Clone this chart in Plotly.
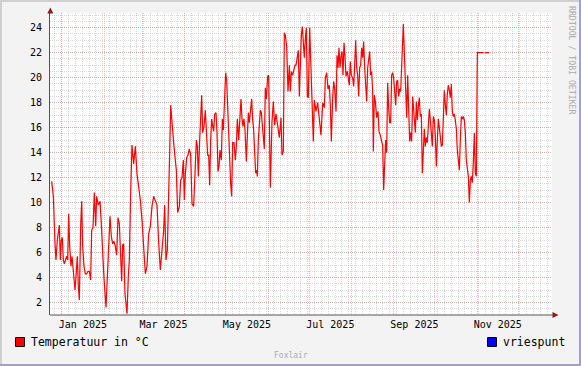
import pandas as pd
import plotly.graph_objects as go

# ---------------- data (day offsets from 2025-01-01, temperature in °C) ----------------
days = [
    -7.34, -6.12, -4.90, -4.17, -3.20, -1.73, -1.00, -0.27, 0.46, 1.19, 1.92, 2.90, 3.64, 4.37,
    5.10, 5.83, 6.80, 7.53, 8.51, 9.73, 10.46, 11.43, 12.16, 12.90, 13.87, 14.61, 15.34, 16.31,
    17.29, 18.26, 19.24, 20.21, 21.19, 21.92, 22.90, 23.87, 24.85, 25.58, 26.80, 28.02, 28.99,
    29.97, 30.94, 32.41, 33.38, 34.36, 35.33, 36.31, 37.28, 38.26, 39.23, 40.21, 41.18, 42.16,
    43.14, 43.87, 44.60, 45.33, 46.30, 47.03, 47.77, 48.74, 49.47, 50.45,
    51.42, 52.65, 53.86, 55.08, 56.30, 57.52, 58.74, 59.96, 61.18, 62.40, 63.62, 64.83, 66.05,
    67.27, 68.49, 69.71, 70.93, 72.15, 73.37, 74.59, 75.32, 76.29, 77.27, 78.25, 78.98, 79.71,
    80.68, 81.90, 83.12, 83.85, 84.83, 86.05, 87.03, 88.00, 88.97, 89.70, 90.44, 91.42, 92.39,
    93.36, 94.34, 95.32, 96.54,
    97.51, 98.49, 99.22, 99.95, 100.93, 101.66, 102.39, 103.12, 104.10, 105.07, 105.80, 106.78,
    107.51, 108.24, 108.97, 109.70, 110.44, 111.17, 111.90, 112.87, 113.60, 114.33, 115.07,
    115.80, 116.77, 117.50, 118.23, 119.21, 119.94, 120.67, 121.41, 122.14, 122.87, 123.60,
    124.33, 125.06, 126.04, 127.01, 127.74, 128.47, 129.45, 130.43, 131.16, 131.89, 132.62,
    133.35, 134.08, 135.06, 135.79, 136.52, 137.25, 138.23, 138.96, 139.69, 140.43, 141.16,
    141.89, 142.62, 143.10, 143.83, 144.56, 145.30, 146.03, 146.76, 147.49, 148.22, 148.96,
    149.69, 150.66, 151.40,
    152.61, 153.83, 154.81, 155.79, 156.76, 157.98, 159.20, 160.42, 161.15, 162.13, 162.86,
    163.59, 164.57, 165.54, 166.51, 167.25, 167.98, 168.95, 169.69, 170.66, 171.39, 172.12,
    173.10, 173.83, 174.56, 175.29, 176.02, 176.75, 177.48, 178.22, 178.95, 179.68, 180.41,
    181.39, 182.12, 183.10, 184.07, 184.80, 186.02, 187.24, 188.46, 189.68, 190.90, 192.12,
    192.85, 193.83, 194.80, 195.78, 196.51, 197.24, 198.21, 198.95, 199.68, 200.66, 201.39,
    202.12, 202.85,
    203.58, 204.31, 205.04, 205.77, 206.51, 207.24, 207.97, 208.94, 209.67, 210.40, 211.13,
    211.86, 212.84, 213.57, 214.30, 215.04, 215.77, 216.50, 217.23, 217.96, 218.69, 219.43,
    220.16, 220.89, 221.62, 222.35, 223.08, 223.81, 224.55, 225.28, 226.01, 226.74, 227.47,
    227.96, 228.69, 229.42, 230.40, 231.37, 232.10, 233.08, 234.06, 234.79, 235.52, 236.25,
    236.98, 237.71, 238.45, 239.18, 239.91, 240.64, 241.37, 242.10, 242.84, 243.57, 244.30,
    245.03, 245.76, 246.49, 247.22, 247.96, 248.69, 249.42, 249.91, 250.88, 251.62, 252.35,
    253.08, 253.81, 254.54, 255.27, 256.00,
    256.74, 257.71, 258.68, 259.42, 260.15, 260.88, 261.61, 262.34, 263.07, 263.81, 264.54,
    265.27, 266.00, 266.73, 267.46, 268.19, 268.93, 269.66, 270.39, 271.12, 271.85, 272.58,
    273.31, 274.05, 274.78, 275.51, 276.24, 276.97, 277.70, 278.44, 279.17, 279.90, 280.63,
    281.36, 282.09, 282.82, 283.56, 284.29, 285.02, 285.75, 286.48, 287.21, 287.94, 288.68,
    289.41, 290.14, 290.87, 291.60, 292.33, 293.06, 293.80, 294.53, 295.26, 295.99, 296.72,
    297.45, 298.19, 298.92, 299.65, 300.38, 301.11, 301.84, 302.58, 303.31,
    304.04, 308.70, None, 309.60, 312.80,
]
temps = [
    11.7, 10.5, 6.7, 5.4, 7.0, 8.2, 5.4, 7.0, 7.2, 5.4, 5.1, 5.5, 5.7, 5.4,
    9.1, 6.5, 4.9, 5.7, 4.6, 3.0, 4.1, 5.7, 3.3, 2.2, 8.1, 10.1, 6.5, 4.9,
    4.3, 4.3, 4.5, 4.5, 3.8, 7.8, 8.0, 10.8, 8.1, 10.5, 9.8, 10.1, 8.3,
    5.9, 3.9, 1.6, 3.8, 5.5, 8.9, 7.3, 6.7, 6.9, 6.5, 5.8, 8.8, 8.3,
    5.7, 3.7, 6.6, 6.7, 2.7, 1.9, 1.1, 4.1, 5.4, 10.8,
    14.6, 13.1, 14.5, 12.3, 11.2, 10.2, 8.6, 6.5, 4.3, 4.9, 7.5, 8.1, 9.7,
    10.5, 10.1, 9.8, 6.8, 4.6, 6.2, 7.8, 9.8, 5.4, 6.2, 9.7, 14.0, 17.8,
    16.1, 14.8, 13.4, 12.6, 9.2, 9.7, 11.8, 12.0, 13.4, 10.2, 12.3, 13.6, 13.8,
    14.3, 13.8, 9.9, 9.7,
    12.35, 15.0, 14.5, 12.1, 15.0, 16.9, 18.6, 15.6, 16.1, 17.4, 15.3, 13.8,
    13.8, 11.4, 15.0, 16.7, 16.1, 15.7, 17.1, 17.2, 15.6, 12.5, 12.9,
    14.2, 13.4, 16.7, 15.8, 18.0, 20.4, 19.8, 17.7, 15.0, 12.9, 11.5,
    10.5, 14.8, 14.8, 13.4, 14.5, 16.7, 15.0, 17.7, 18.3, 16.7, 16.1,
    16.7, 15.8, 13.3, 15.6, 17.2, 16.4, 17.8, 18.3, 16.7, 15.8, 14.0,
    12.35, 12.6, 12.1, 15.0, 16.2, 17.4, 17.2, 16.1, 15.6, 14.3, 19.2,
    18.3, 20.1, 20.2,
    11.2, 16.5, 18.1, 16.2, 17.1, 15.9, 15.2, 16.8, 13.8, 14.1, 23.6,
    23.4, 22.5, 18.9, 21.0, 18.9, 20.5, 20.2, 20.5, 21.0, 21.0, 21.6,
    22.2, 18.5, 21.6, 23.4, 24.1, 22.6, 21.6, 23.1, 24.0, 18.5, 18.4,
    24.0, 21.6, 17.0, 14.9, 18.2, 17.3, 18.0, 16.7, 15.4, 18.0, 17.6,
    19.97, 20.4, 19.1, 19.4, 17.8, 14.9, 18.4, 19.7, 19.1, 17.3, 21.8,
    20.8, 22.4,
    20.8, 21.7, 22.1, 20.2, 22.8, 21.7, 20.1, 20.5, 20.1, 19.4, 21.3,
    20.2, 19.97, 19.3, 21.0, 23.0, 20.8, 20.2, 18.5, 20.8, 21.0, 22.4,
    21.6, 22.9, 20.8, 19.4, 18.1, 20.8, 21.3, 22.1, 20.2, 20.5, 18.9,
    14.1, 18.6, 18.1, 16.8, 17.3, 15.7, 15.4, 14.9, 14.6, 11.0, 13.6,
    15.0, 14.0, 19.6, 17.6, 16.4, 16.4, 20.2, 20.4, 19.97, 18.9, 17.8,
    19.7, 19.8, 18.5, 19.1, 18.9, 20.6, 23.1, 24.3, 21.3, 18.9, 16.8,
    20.2, 17.8, 14.9, 15.6, 14.9,
    18.5, 16.6, 15.6, 18.1, 16.6, 17.7, 18.4, 16.9, 17.1, 12.35, 14.0,
    15.9, 14.5, 15.2, 14.8, 16.6, 17.5, 16.6, 15.0, 14.5, 16.9, 16.6,
    15.3, 12.9, 15.0, 16.7, 16.0, 14.8, 14.5, 14.6, 17.8, 19.0, 17.8,
    17.0, 18.7, 19.4, 19.0, 18.4, 19.5, 17.3, 16.9, 17.1, 16.6, 15.9,
    14.2, 13.4, 12.6, 15.0, 16.9, 16.7, 16.9, 16.6, 15.6, 13.4, 12.35,
    12.1, 10.0, 11.8, 12.1, 11.6, 13.2, 15.6, 12.35, 12.1,
    22.0, 22.0, None, 22.0, 22.0,
]

label_months = ["2025-01", "2025-03", "2025-05", "2025-07", "2025-09", "2025-11"]
label_text = ["Jan 2025", "Mar 2025", "May 2025", "Jul 2025", "Sep 2025", "Nov 2025"]
y_ticks = [2, 4, 6, 8, 10, 12, 14, 16, 18, 20, 22, 24]
series_name = "Temperatuur in °C"
freeze_name = "vriespunt"
freeze_value = 0

# ---------------- build ----------------
base = pd.Timestamp("2025-01-01")
xdates = [base + pd.Timedelta(days=d) if d is not None else None for d in days]
x_start = base + pd.Timedelta(days=-8.56)
x_end = base + pd.Timedelta(days=358.66)

month_starts = list(pd.date_range("2024-12-01", "2026-01-01", freq="MS"))
label_pos = []
for m in label_months:
    s = pd.Timestamp(m + "-01")
    e = s + pd.offsets.MonthBegin(1)
    label_pos.append(s + (e - s) / 2)

FONT = "DejaVu Sans Mono"
MAJ = "rgba(222,120,120,0.5)"
MIN = "rgba(160,160,160,0.4)"

PL, PT, PW, PH = 50, 13, 502, 302
W, H = 581, 366


def px(x):
    return (x - PL) / PW


def py(y):
    return (PT + PH - y) / PH


fig = go.Figure()
fig.add_trace(go.Scatter(x=xdates, y=temps, mode="lines", name=series_name,
                         line=dict(color="#ff0000", width=1.2), connectgaps=False,
                         showlegend=False, hoverinfo="skip"))
fig.add_trace(go.Scatter(x=[x_start, x_end], y=[freeze_value, freeze_value], mode="lines",
                         name=freeze_name, xaxis="x2", line=dict(color="#0000ff", width=1),
                         showlegend=False, hoverinfo="skip"))

shapes = []
# arrows
shapes.append(dict(type="path", xref="paper", yref="paper",
                   path=f"M {px(47.3)} {py(13.5)} L {px(53.3)} {py(13.5)} L {px(50.3)} {py(7.5)} Z",
                   fillcolor="#8b1a1a", line=dict(width=0)))
shapes.append(dict(type="path", xref="paper", yref="paper",
                   path=f"M {px(552.5)} {py(312)} L {px(552.5)} {py(318)} L {px(558.5)} {py(315)} Z",
                   fillcolor="#8b1a1a", line=dict(width=0)))
shapes.append(dict(type="line", xref="paper", yref="paper", x0=px(50), x1=px(553), y0=py(315), y1=py(315),
                   line=dict(color="#555555", width=1)))
# border
shapes.append(dict(type="rect", xref="paper", yref="paper", x0=px(0), x1=px(2), y0=py(0), y1=py(366),
                   fillcolor="#cfcfcf", line=dict(width=0), layer="above"))
shapes.append(dict(type="rect", xref="paper", yref="paper", x0=px(0), x1=px(581), y0=py(0), y1=py(2),
                   fillcolor="#cfcfcf", line=dict(width=0), layer="above"))
shapes.append(dict(type="rect", xref="paper", yref="paper", x0=px(579), x1=px(581), y0=py(0), y1=py(366),
                   fillcolor="#a0a0d0", line=dict(width=0), layer="above"))
shapes.append(dict(type="rect", xref="paper", yref="paper", x0=px(0), x1=px(581), y0=py(364), y1=py(366),
                   fillcolor="#a0a0d0", line=dict(width=0), layer="above"))
# legend boxes
shapes.append(dict(type="rect", xref="paper", yref="paper", x0=px(15.5), x1=px(24.5), y0=py(346.5), y1=py(337.5),
                   fillcolor="#ff0000", line=dict(color="#000000", width=1)))
shapes.append(dict(type="rect", xref="paper", yref="paper", x0=px(487.5), x1=px(496.5), y0=py(346.5), y1=py(337.5),
                   fillcolor="#0000ff", line=dict(color="#000000", width=1)))

annotations = [
    dict(text=series_name, x=px(29), y=py(341.5), xref="paper", yref="paper", xanchor="left",
         yanchor="middle", showarrow=False, font=dict(family=FONT, size=11.5, color="#000000")),
    dict(text=freeze_name, x=px(501), y=py(341.5), xref="paper", yref="paper", xanchor="left",
         yanchor="middle", showarrow=False, font=dict(family=FONT, size=11.5, color="#000000")),
    dict(text="Foxlair", x=px(290.5), y=py(355), xref="paper", yref="paper", xanchor="center",
         yanchor="middle", showarrow=False, font=dict(family=FONT, size=8, color="#aaaaaa")),
    dict(text="RRDTOOL / TOBI OETIKER", x=px(572), y=py(60), xref="paper", yref="paper",
         xanchor="center", yanchor="middle", textangle=90, showarrow=False,
         font=dict(family=FONT, size=8.2, color="#aaaaaa")),
]

fig.update_layout(
    width=W, height=H,
    margin=dict(l=PL, r=W - PL - PW, t=PT, b=H - PT - PH, pad=0),
    paper_bgcolor="#f3f3f3", plot_bgcolor="#ffffff",
    showlegend=False,
    xaxis=dict(type="date", range=[x_start, x_end], tickmode="array", tickvals=month_starts,
               ticktext=[""] * len(month_starts), showgrid=True, gridcolor=MAJ, griddash="1px,1px",
               gridwidth=1, showline=False, zeroline=False, ticks="", fixedrange=True,
               minor=dict(tickmode="linear", tick0="2025-01-01", dtick=5 * 86400000, showgrid=True,
                          gridcolor=MIN, griddash="1px,1px", gridwidth=1, ticks="")),
    xaxis2=dict(type="date", overlaying="x", matches="x", anchor="y", side="bottom",
                tickmode="array", tickvals=label_pos, ticktext=label_text, showgrid=False,
                showline=False, zeroline=False, ticks="", ticklabelstandoff=2,
                tickfont=dict(family=FONT, size=10, color="#000000")),
    yaxis=dict(range=[1, 25.18], tickmode="array", tickvals=y_ticks, showgrid=True, gridcolor=MAJ,
               griddash="1px,1px", gridwidth=1, zeroline=False, showline=True, linecolor="#555555",
               linewidth=1, ticks="", ticklabelstandoff=5, fixedrange=True,
               tickfont=dict(family=FONT, size=10, color="#000000"),
               minor=dict(tickmode="linear", tick0=0, dtick=0.5, showgrid=True, gridcolor=MIN,
                          griddash="1px,1px", gridwidth=1, ticks="")),
    shapes=shapes,
    annotations=annotations,
)

fig.write_html("out.html", config={"displayModeBar": False},
               post_script="document.body.style.margin='0';document.body.style.padding='0';")
